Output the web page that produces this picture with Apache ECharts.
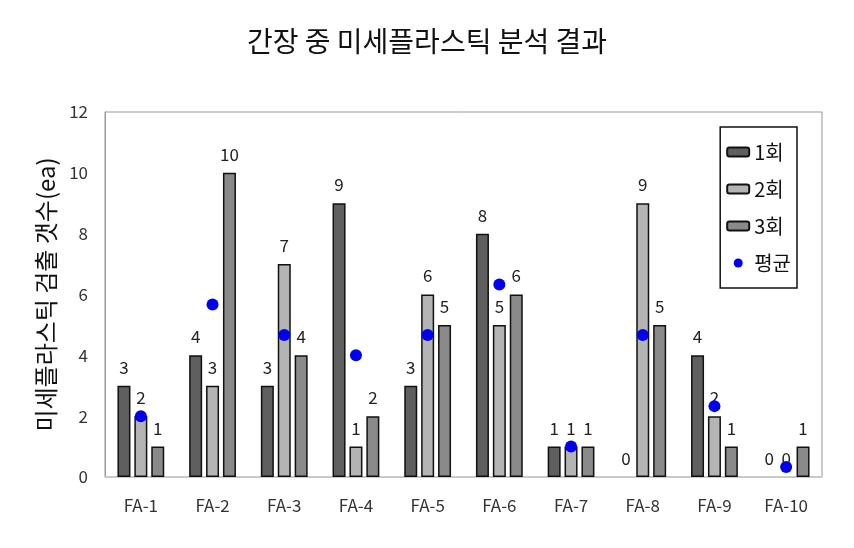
<!DOCTYPE html>
<html><head><meta charset="utf-8">
<script src="https://cdn.jsdelivr.net/npm/echarts@6/dist/echarts.min.js"></script>
<style>html,body{margin:0;padding:0;background:#fff}#c{width:854px;height:548px}</style>
</head><body><div id="c"></div>
<script>
const categories = ['FA-1','FA-2','FA-3','FA-4','FA-5','FA-6','FA-7','FA-8','FA-9','FA-10'];
const run1 = [3,4,3,9,3,8,1,0,4,0];
const run2 = [2,3,7,1,6,5,1,9,2,0];
const run3 = [1,10,4,2,5,6,1,5,1,1];
const mean = [2,5.67,4.67,4,4.67,6.33,1,4.67,2.33,0.33];
const yTicks = [0,2,4,6,8,10,12];
const seriesNames = ['1회','2회','3회','평균'];

const font = '"Noto Sans CJK KR", "Noto Sans", sans-serif';
const chart = echarts.init(document.getElementById('c'));
const barLabel = {show:true, position:'top', distance:10, fontSize:17, color:'#222', fontFamily:font};
function bar(name, data, color){
  return {name, type:'bar',
    data: data.map(v => v === 0 ? {value:v, itemStyle:{borderWidth:0}} : v),
    barWidth:13, barGap:'30%',
    itemStyle:{color, borderColor:'#111', borderWidth:1.5},
    label:barLabel};
}
chart.setOption({
  animation:false,
  backgroundColor:'#fff',
  textStyle:{fontFamily:font},
  title:{text:'간장 중 미세플라스틱 분석 결과', left:'center', top:22,
    textStyle:{fontSize:28, fontWeight:'normal', color:'#111', fontFamily:font}},
  grid:{left:105, right:32, top:112, bottom:71, show:true, borderColor:'#999', borderWidth:1},
  legend:{orient:'vertical', right:57, top:127, data:seriesNames,
    backgroundColor:'#fff', borderColor:'#111', borderWidth:1.5, padding:[15,6,15,6],
    itemWidth:22, itemHeight:9, itemGap:17,
    textStyle:{fontSize:20, color:'#111', fontFamily:font}},
  xAxis:{type:'category', data:categories,
    axisLine:{lineStyle:{color:'#c8c8c8', width:1.5}},
    axisTick:{show:false},
    axisLabel:{margin:20, fontSize:17, color:'#333', fontFamily:font}},
  yAxis:{type:'value', min:0, max:12, interval:2,
    name:'미세플라스틱 검출 갯수(ea)', nameLocation:'middle', nameGap:43,
    nameTextStyle:{fontSize:24, color:'#111', fontFamily:font},
    splitLine:{show:false},
    axisLine:{show:true, lineStyle:{color:'#999'}},
    axisTick:{show:false},
    axisLabel:{margin:17, fontSize:17, color:'#333', fontFamily:font,
      formatter:v=>yTicks.includes(v)?String(v):''}},
  series:[
    bar(seriesNames[0], run1, '#5f5f5f'),
    bar(seriesNames[1], run2, '#b4b4b4'),
    bar(seriesNames[2], run3, '#8a8a8a'),
    {name:seriesNames[3], type:'scatter', data:mean, symbol:'circle', symbolSize:12,
      itemStyle:{color:'#0000f0', opacity:1}, z:5}
  ]
});
</script></body></html>
